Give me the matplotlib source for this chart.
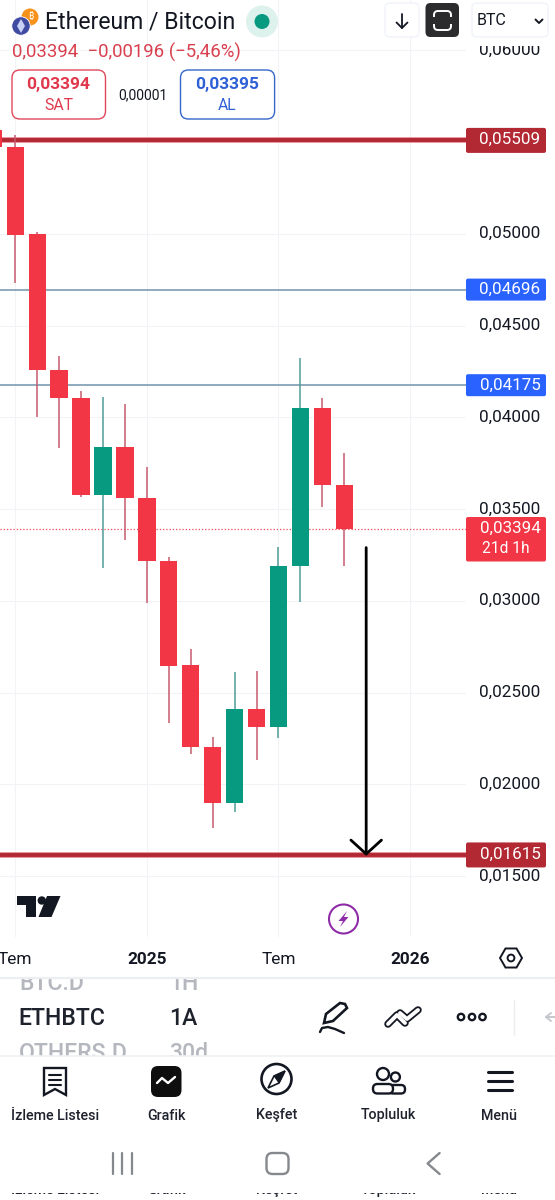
import numpy as np
import matplotlib
matplotlib.use("Agg")
import matplotlib.pyplot as plt
from matplotlib.patches import FancyBboxPatch, Circle, Polygon, Rectangle, RegularPolygon

plt.rcParams['font.family'] = ['Roboto', 'Noto Sans', 'Inter', 'Open Sans', 'Lato', 'DejaVu Sans']

# monthly candles, ETH/BTC, first one only just shows at the left edge
opens = [0.05565, 0.05471, 0.04997, 0.04258, 0.04104, 0.03577, 0.03837, 0.03562, 0.03217,
         0.02648, 0.02202, 0.01898, 0.02410, 0.02312, 0.03190, 0.04052, 0.03629]
closes = [0.05475, 0.04995, 0.04258, 0.04104, 0.03577, 0.03837, 0.03560, 0.03217, 0.02645,
          0.02202, 0.01898, 0.02410, 0.02312, 0.03190, 0.04052, 0.03629, 0.03394]
highs = [0.05570, 0.05538, 0.05010, 0.04336, 0.04145, 0.04109, 0.04071, 0.03731, 0.03240,
         0.02736, 0.02256, 0.02612, 0.02617, 0.03295, 0.04322, 0.04107, 0.03807]
lows = [0.05470, 0.04730, 0.04003, 0.03831, 0.03566, 0.03179, 0.03331, 0.02990, 0.02332,
        0.02164, 0.01760, 0.01851, 0.02132, 0.02254, 0.02993, 0.03513, 0.03191]

price_ticks = [0.060, 0.055, 0.050, 0.045, 0.040, 0.035, 0.030, 0.025, 0.020, 0.015]
month_ticks = [0, 6, 12, 18]
month_labels = ['Tem', '2025', 'Tem', '2026']

red_levels = [0.05509, 0.01615]
blue_levels = [0.04696, 0.04175]
last_price = 0.03394
arrow_start = 0.0329

RED = '#F23645'
GREEN = '#089981'
DARK_RED = '#B22833'
BLUE = '#2962FF'
INK = '#131722'


def fmt(v):
    return f"{v:.5f}".replace('.', ',')


def py(v):
    # price -> screen pixel row
    return 233.8 + (0.05 - v) * 18350


fig = plt.figure(figsize=(5.55, 12), dpi=100, facecolor='white')

# chart, x 0-466 px and y 0-937 px of the screenshot
ax = fig.add_axes([0, 1 - 937 / 1200, 466 / 555, 937 / 1200])
ax.set_xlim((0 - 15.3) / 21.93, (466 - 15.3) / 21.93)
ax.set_ylim(0.05 - (937 - 233.8) / 18350, 0.05 + 233.8 / 18350)
for s in ax.spines.values():
    s.set_visible(False)

ax.yaxis.tick_right()
ax.set_yticks(price_ticks)
# the 0,05500 label sits under the 0,05509 tag in the app, so it stays blank
ax.set_yticklabels(['' if v == 0.055 else fmt(v) for v in price_ticks], va='center')
ax.tick_params(axis='y', length=0, pad=9.4, labelsize=12.3, labelcolor=INK)
ax.set_xticks(month_ticks)
ax.set_xticklabels(month_labels)
ax.tick_params(axis='x', length=0, pad=10.5, labelsize=12.4, labelcolor=INK)
for lab in ax.get_xticklabels():
    if lab.get_text().startswith('20'):
        lab.set_fontweight('bold')
ax.grid(color='#F2F3F7', lw=0.75)
ax.set_axisbelow(True)

# level lines
for v in red_levels:
    ax.axhline(v, color='#E58F98', lw=4.2, zorder=2)
    ax.axhline(v, color=DARK_RED, lw=2.8, zorder=2.1)
for v in blue_levels:
    ax.axhline(v, color='#6F93AB', lw=1.1, zorder=2)
ax.axhline(last_price, color='#EC4A5A', lw=0.9, ls=(0, (1, 1.6)), zorder=2)

# candles
xs = np.arange(-1, len(opens) - 1)
for x, o, c, h, l in zip(xs, opens, closes, highs, lows):
    up = c > o
    ax.vlines(x, l, h, color='#4F9C97' if up else '#C65A6E', lw=1.1, zorder=3)
    ax.bar(x, abs(c - o), bottom=min(o, c), width=0.79, color=GREEN if up else RED, zorder=4)

# hand drawn arrow
ax.annotate('', xy=(16, red_levels[1] - 0.00005), xytext=(16, arrow_start),
            arrowprops=dict(arrowstyle='->,head_length=1.0,head_width=1.1', color='black', lw=2.0,
                            shrinkA=0, shrinkB=0), zorder=6)

# screen furniture on top, in screenshot pixels
ui = fig.add_axes([0, 0, 1, 1], zorder=5)
ui.set_xlim(0, 555)
ui.set_ylim(1200, 0)
ui.axis('off')
ui.patch.set_alpha(0)


def txt(x, y, s, px, color=INK, ha='center', weight='normal', z=10):
    ui.text(x, y, s, fontsize=px * 0.72, color=color, ha=ha, va='center', fontweight=weight, zorder=z)


def box(x0, y0, x1, y1, r, fc='white', ec='none', lw=1.0, z=8):
    ui.add_patch(FancyBboxPatch((x0, y0), x1 - x0, y1 - y0, boxstyle=f"round,pad=0,rounding_size={r}",
                                fc=fc, ec=ec, lw=lw, zorder=z))


def line(px, py_, color=INK, lw=1.5, z=10):
    ui.plot(px, py_, color=color, lw=lw, solid_capstyle='round', solid_joinstyle='round', zorder=z)


def rect(x0, y0, x1, y1, color='white', z=7):
    ui.add_patch(Rectangle((x0, y0), x1 - x0, y1 - y0, fc=color, ec='none', zorder=z))


# header
rect(466, 38, 555, 45.5)
ui.add_patch(Circle((30, 17), 8.5, fc='#F7931A', zorder=9))
txt(31, 17, '₿', 9, 'white', z=10)
ui.add_patch(Circle((21, 26), 9.2, fc='#3F4BA0', ec='white', lw=0.6, zorder=10))
ui.add_patch(Polygon([(21, 19), (25, 26), (21, 33), (17, 26)], fc='#C9D2F5', ec='none', zorder=11))
txt(45, 22, 'Ethereum / Bitcoin', 23, ha='left')
ui.add_patch(Circle((262, 21.5), 16, fc='#DDF1ED', zorder=9))
ui.add_patch(Circle((262, 21.5), 7.5, fc=GREEN, zorder=10))

box(385, 3, 419, 37, 5, ec='#F0F3FA', lw=1)
line([402, 402], [14, 28], lw=1.3)
line([396.5, 402, 407.5], [22.5, 28, 22.5], lw=1.3)
box(425.5, 3, 459, 37, 5, fc='#2B2B2D')
box(434, 11, 451, 30, 4, fc='none', ec='white', lw=1.4, z=9)
rect(432, 17, 453, 24, '#2B2B2D', z=9.5)
box(472, 3, 548, 37, 5, ec='#F0F3FA', lw=1)
txt(477, 20.5, 'BTC', 16, ha='left')
line([535.5, 539, 542.5], [19.5, 23, 19.5], lw=1.4)

txt(12, 52.5, f"{fmt(last_price)}  −0,00196 (−5,46%)", 18.6, '#D9404F', ha='left')
box(12, 70, 105.5, 119, 8, ec='#E0475A', lw=1)
txt(58.5, 84, fmt(last_price), 17.4, '#E0384C', weight='bold')
txt(58.5, 105, 'SAT', 15.7, '#E0384C')
txt(142.6, 95, '0,00001', 13.9)
box(180.5, 70, 274.6, 119, 8, ec='#3566C8', lw=1)
txt(227.5, 84, '0,03395', 17.4, '#2E60D6', weight='bold')
txt(227.5, 105, 'AL', 15.7, '#2E60D6')

# price tags on the scale
for v in red_levels:
    box(466, py(v) - 12.5, 546, py(v) + 12.5, 2, fc=DARK_RED)
    txt(510, py(v) - 1, fmt(v), 17, 'white')
for v in blue_levels:
    box(466, py(v) - 11, 546, py(v) + 11, 2, fc=BLUE)
    txt(510, py(v), fmt(v), 17, 'white')
box(466, py(last_price) - 11.5, 546, py(last_price) + 33, 2, fc=RED)
txt(510, py(last_price), fmt(last_price), 17, 'white')
txt(506, py(last_price) + 20, '21d 1h', 15.5, 'white')

# tradingview mark
ui.add_patch(Polygon([(17, 896), (35.5, 896), (35.5, 917), (26, 917), (26, 905), (17, 905)], fc=INK, zorder=9))
ui.add_patch(Circle((41.8, 900.5), 4.2, fc=INK, zorder=9))
ui.add_patch(Polygon([(47, 896), (60.5, 896), (51.5, 917), (38.5, 917)], fc=INK, zorder=9))
# lightning badge
ui.add_patch(Circle((343.5, 919), 14.5, fc='white', ec='#8E2CA8', lw=1.5, zorder=9))
ui.add_patch(Polygon([(347, 911), (338.5, 921), (343, 921), (340, 927), (348.5, 917), (344, 917)], fc='#8E2CA8', zorder=10))
# settings hexagon
ui.add_patch(RegularPolygon((511, 958), 6, radius=11, orientation=np.pi / 6, fc='none', ec=INK, lw=1.4, zorder=9))
ui.add_patch(Circle((511, 958), 3.4, fc='none', ec=INK, lw=1.4, zorder=9))

# symbol picker, the rows above and below are cut off
txt(19, 983, 'BTC.D', 23, '#B4B7BD', ha='left', weight='medium', z=6)
txt(169, 983, '1H', 23, '#B4B7BD', ha='left', weight='medium', z=6)
txt(19, 1054, 'OTHERS.D', 23, '#B4B7BD', ha='left', weight='medium', z=6)
txt(169, 1054, '30d', 23, '#B4B7BD', ha='left', weight='medium', z=6)
rect(0, 968, 555, 978.5)
rect(0, 1056, 555, 1066)
line([0, 555], [978, 978], '#ECEEF1', 1.6, z=7.5)
line([0, 555], [1056, 1056], '#F0F1F3', 1.2, z=7.5)
txt(18, 1018.5, 'ETHBTC', 23, '#1E222D', ha='left', weight='medium')
txt(169, 1018.5, '1A', 23, '#1E222D', ha='left', weight='medium')

# pencil + squiggle
ui.add_patch(Polygon([(324, 1023), (326, 1014), (340, 1003), (345, 1004), (347, 1008), (333, 1021)],
                     fc='white', ec=INK, lw=1.9, zorder=10))
line([320, 322, 328, 335, 344], [1032, 1028, 1027, 1029, 1033], lw=1.7)
# double zigzag
for a, b in [(([388, 397, 405], [1024, 1015, 1023])), (([400, 407, 418], [1013, 1019, 1010]))]:
    line(a, b, INK, 5.4)
    line(a, b, 'white', 2.8, z=10.5)
for cx in [461, 472, 482.5]:
    ui.add_patch(Circle((cx, 1017), 3.2, fc='white', ec=INK, lw=1.7, zorder=10))
line([514, 514], [1000, 1035], '#ECEEF1', 1)
line([551, 546, 551], [1013, 1017, 1021], '#C4C7CC', 1.4)
line([546, 555], [1017, 1017], '#C4C7CC', 1.4)

# bottom navigation
nav_x = [55, 166, 277, 388, 499.5]
nav_labels = ['İzleme Listesi', 'Grafik', 'Keşfet', 'Topluluk', 'Menü']
for x, s in zip(nav_x, nav_labels):
    txt(x, 1115.5, s, 14.3, '#1E222D', weight='medium')

ui.add_patch(Polygon([(44, 1068), (66, 1068), (66, 1095), (55, 1089), (44, 1095)], fc='white', ec=INK, lw=1.7, zorder=10))
for yy in [1075, 1080, 1085]:
    line([49, 61], [yy, yy], lw=1.5)
box(151, 1066, 181.5, 1097, 7, fc='#0E0E0F', z=9)
line([157, 162, 168, 175], [1083, 1078, 1083, 1077], 'white', 1.7)
ui.add_patch(Circle((276.5, 1079), 15, fc='white', ec=INK, lw=1.9, zorder=9))
ui.add_patch(Polygon([(285, 1071), (279, 1083), (268, 1088), (274, 1076)], fc='white', ec=INK, lw=1.2, zorder=10))
ui.add_patch(Polygon([(285, 1071), (279, 1083), (274, 1076)], fc=INK, ec=INK, lw=0.6, zorder=10))
ui.add_patch(Circle((395.4, 1077), 4.5, fc='white', ec=INK, lw=1.7, zorder=9))
ui.add_patch(Circle((383, 1074), 6, fc='white', ec=INK, lw=1.7, zorder=10))
box(389, 1085, 405, 1093.5, 4, ec=INK, lw=1.7, z=9)
box(373, 1084, 393, 1093.5, 4.5, ec=INK, lw=1.7, z=10)
for yy in [1072, 1081, 1090]:
    line([488, 512], [yy, yy], lw=2.2)

# android buttons
for xx in [112.5, 122, 132]:
    line([xx, xx], [1153, 1174], '#85888D', 1.6)
box(266.5, 1153, 288.5, 1174, 6, ec='#85888D', lw=1.7)
line([439.6, 427.6, 439.6], [1153, 1163.5, 1174], '#85888D', 1.7)

# second screenshot showing through at the very bottom
for x, s in zip(nav_x, nav_labels):
    txt(x, 1190, s, 14.3, '#1E222D', weight='medium', z=6)
rect(0, 1178, 555, 1193)

fig.savefig('out.png', dpi=100, facecolor='white')
